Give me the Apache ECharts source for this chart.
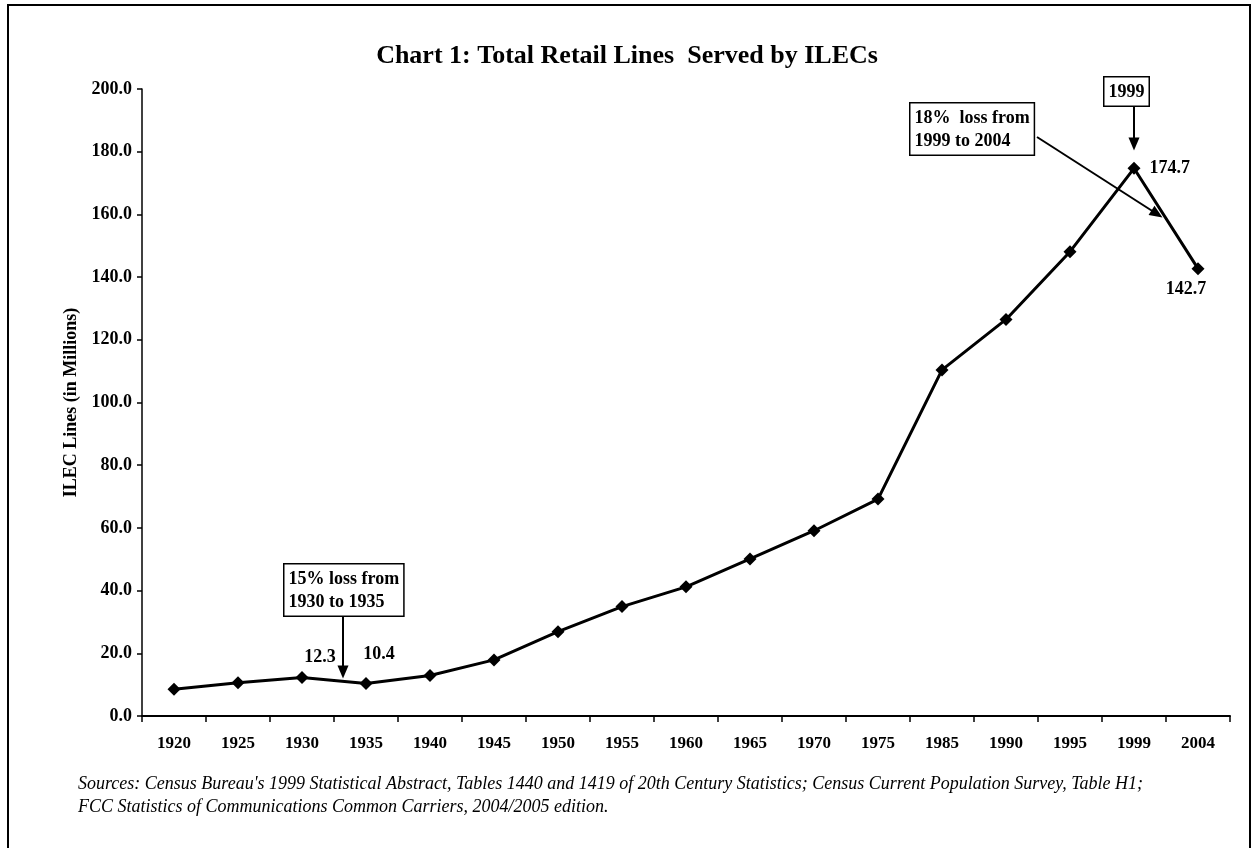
<!DOCTYPE html>
<html>
<head>
<meta charset="utf-8">
<script src="https://cdn.jsdelivr.net/npm/echarts@6/dist/echarts.min.js"></script>
<style>
  html, body { margin: 0; padding: 0; background: #ffffff; }
  #chart { width: 1254px; height: 848px; }
</style>
</head>
<body>
<div id="chart"></div>
<script>
// Years shown on the category axis
const years = ['1920', '1925', '1930', '1935', '1940', '1945', '1950', '1955', '1960',
               '1965', '1970', '1975', '1985', '1990', '1995', '1999', '2004'];
// ILEC retail lines, millions
const lines = [8.5, 10.6, 12.3, 10.4, 12.9, 17.9, 26.9, 34.9, 41.2,
               50.1, 59.1, 69.2, 110.4, 126.5, 148.1, 174.7, 142.7];
// Y axis tick range
const yMin = 0, yMax = 200, yStep = 20;

const serif = "'Liberation Serif', 'Times New Roman', Times, serif";

// Value labels shown next to selected points
const labelled = {
  '1930': { position: 'inside', offset: [18, -20] },
  '1935': { position: 'inside', offset: [13, -29] },
  '1999': { position: 'right', distance: 9 },
  '2004': { position: 'inside', offset: [-12, 21] }
};

const seriesData = years.map((y, i) => {
  const item = { value: lines[i] };
  if (labelled[y]) {
    item.label = Object.assign({
      show: true,
      formatter: (p) => p.value.toFixed(1),
      fontFamily: serif, fontWeight: 'bold', fontSize: 18, color: '#000'
    }, labelled[y]);
  }
  return item;
});

function annotationBox(left, top, text, align) {
  return {
    type: 'text', left: left, top: top, z: 10,
    style: {
      text: text, fill: '#000', font: 'bold 18px ' + serif,
      lineHeight: 23, align: align || 'left',
      backgroundColor: '#fff', borderColor: '#000', borderWidth: 1.5,
      padding: [3, 4, 2, 4]
    }
  };
}

const chart = echarts.init(document.getElementById('chart'), null, { renderer: 'canvas' });

chart.setOption({
  animation: false,
  backgroundColor: '#fff',
  title: {
    text: 'Chart 1: Total Retail Lines  Served by ILECs',
    left: 'center', top: 38,
    textStyle: { fontFamily: serif, fontWeight: 'bold', fontSize: 26, color: '#000' }
  },
  grid: { left: 142, right: 24, top: 89, bottom: 132, containLabel: false },
  xAxis: {
    type: 'category',
    data: years,
    boundaryGap: true,
    axisLine: { lineStyle: { color: '#000', width: 2 } },
    axisTick: { show: true, length: 6, inside: false, lineStyle: { color: '#000', width: 1.5 } },
    axisLabel: { interval: 0, margin: 19, fontFamily: serif, fontWeight: 'bold', fontSize: 17, color: '#000' },
    splitLine: { show: false }
  },
  yAxis: {
    type: 'value',
    min: yMin, max: yMax, interval: yStep,
    name: 'ILEC Lines (in Millions)',
    nameLocation: 'middle',
    nameGap: 62,
    nameRotate: 90,
    nameTextStyle: { fontFamily: serif, fontWeight: 'bold', fontSize: 18, color: '#000' },
    axisLine: { show: true, lineStyle: { color: '#000', width: 1.5 } },
    axisTick: { show: true, length: 5, lineStyle: { color: '#000', width: 1.5 } },
    axisLabel: {
      margin: 10, fontFamily: serif, fontWeight: 'bold', fontSize: 18, color: '#000',
      formatter: (v) => v.toFixed(1)
    },
    splitLine: { show: false }
  },
  series: [{
    type: 'line',
    data: seriesData,
    symbol: 'diamond',
    symbolSize: 13,
    showAllSymbol: true,
    lineStyle: { color: '#000', width: 3 },
    itemStyle: { color: '#000' },
    label: { show: false },
    markLine: {
      silent: true,
      symbol: ['none', 'triangle'],
      symbolSize: [11, 13],
      label: { show: false },
      lineStyle: { color: '#000', width: 2, type: 'solid' },
      data: [
        [{ x: 343, y: 613 }, { x: 343, y: 672 }],
        [{ x: 1134, y: 103 }, { x: 1134, y: 144 }],
        [{ x: 1037, y: 137 }, { x: 1157, y: 214 }]
      ]
    }
  }],
  graphic: [
    {
      type: 'rect', z: 0, silent: true,
      shape: { x: 8, y: 5, width: 1242, height: 900 },
      style: { fill: 'none', stroke: '#000', lineWidth: 2 }
    },
    annotationBox(283, 563, '15% loss from\n1930 to 1935'),
    annotationBox(909, 102, '18%  loss from\n1999 to 2004'),
    annotationBox(1103, 76, '1999'),
    {
      type: 'text', left: 78, top: 773, silent: true,
      style: {
        text: "Sources: Census Bureau's 1999 Statistical Abstract, Tables 1440 and 1419 of 20th Century Statistics; Census Current Population Survey, Table H1;\nFCC Statistics of Communications Common Carriers, 2004/2005 edition.",
        fill: '#000', font: 'italic 18px ' + serif, lineHeight: 23
      }
    }
  ]
});
</script>
</body>
</html>
